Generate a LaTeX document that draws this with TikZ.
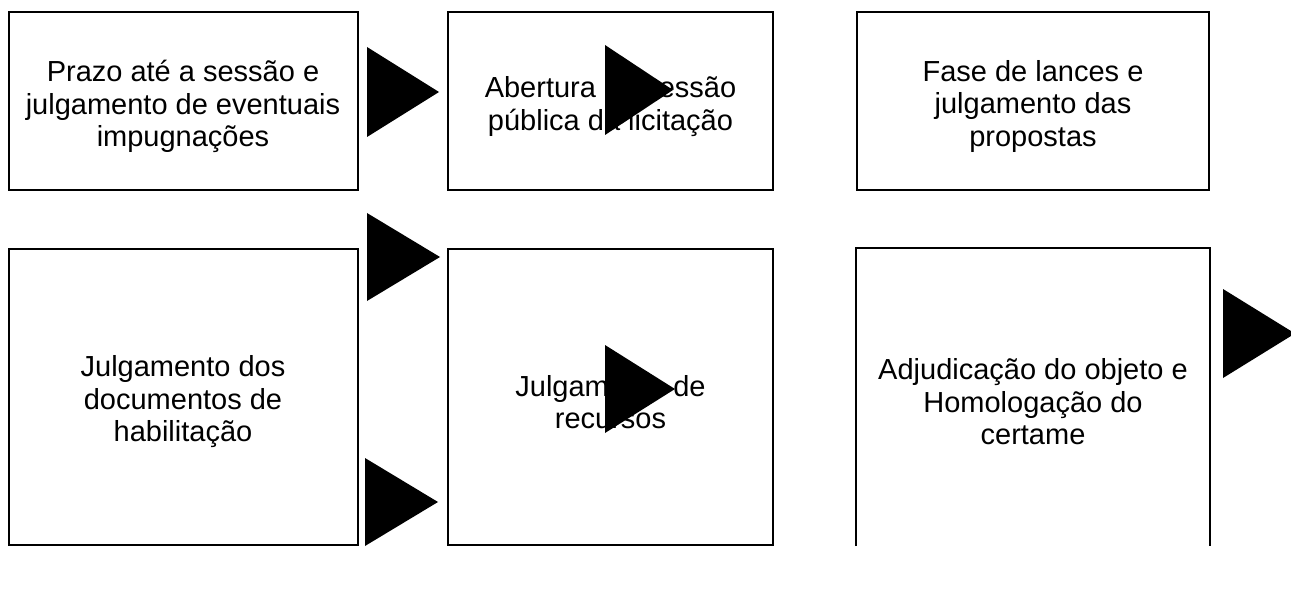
\documentclass[tikz,border=0pt]{standalone}
\usepackage{fontspec}
\setmainfont{Liberation Sans}
\tikzset{
	etapa/.style={draw, line width=2pt, inner sep=0pt},
	texto/.style={align=center, inner sep=0pt, yshift=-5pt,
		font=\fontsize{29}{32.5}\selectfont},
	seta/.style={fill=black}
}
\begin{document}
\begin{tikzpicture}[x=1pt, y=-1pt]
		\useasboundingbox (0, 0) rectangle (1291, 596);
		% caixas
		\node[etapa, minimum width=349pt, minimum height=178pt] (prazo) at (183, 101.5) {};
		\node[etapa, minimum width=325pt, minimum height=178pt] (abertura) at (610.5, 101.5) {};
		\node[etapa, minimum width=352pt, minimum height=178pt] (lances) at (1033, 101.5) {};
		\node[etapa, minimum width=349pt, minimum height=296pt] (habilitacao) at (183, 397) {};
		\node[etapa, minimum width=325pt, minimum height=296pt] (recursos) at (610.5, 397) {};
		\node[etapa, draw=none, minimum width=352pt, minimum height=296pt] (adjudicacao) at (1033, 397) {};
		\draw[line width=2pt] (adjudicacao.south west) -- (adjudicacao.north west) -- (adjudicacao.north east) -- (adjudicacao.south east);
		% textos
		\node[texto] (prazo-t) at (prazo) {Prazo até a sessão e\\julgamento de eventuais\\impugnações};
		\node[texto] (abertura-t) at (abertura) {Abertura da sessão\\pública da licitação};
		\node[texto] (lances-t) at (lances) {Fase de lances e\\julgamento das\\propostas};
		\node[texto] (habilitacao-t) at (habilitacao) {Julgamento dos\\documentos de\\habilitação};
		\node[texto] (recursos-t) at (recursos) {Julgamento de\\recursos};
		\node[texto] (adjudicacao-t) at (adjudicacao) {Adjudicação do objeto e\\Homologação do\\certame};
		% setas
		\foreach \xa/\ya/\yb/\xb in {367/47/137/439, 605/45/135/673, 367/213/301/440, 365/458/546/438, 605/345/433/675, 1223/289/378/1295}
			\fill[seta] (\xa, \ya) -- (\xb, {(\ya+\yb)/2}) -- (\xa, \yb) -- cycle;
	\end{tikzpicture}
\end{document}
